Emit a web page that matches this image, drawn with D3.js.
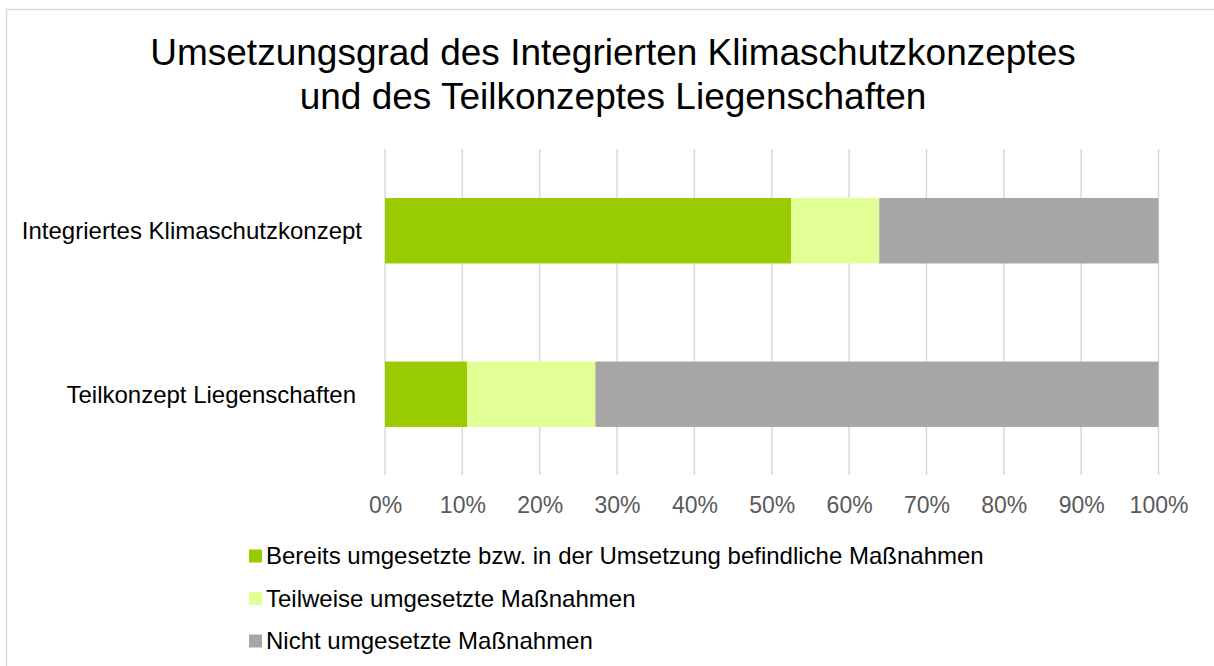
<!doctype html>
<html lang="de">
<head>
  <meta charset="utf-8">
  <title>Umsetzungsgrad</title>
  <script src="https://d3js.org/d3.v7.min.js"></script>
  <style>
    body { margin: 0; background: #fff; }
    text { font-family: "Liberation Sans", Arial, sans-serif; }
  </style>
</head>
<body>
<svg id="chart" width="1214" height="666"></svg>
<script>
// data (percent of measures)
var categories = ["Integriertes Klimaschutzkonzept", "Teilkonzept Liegenschaften"];
var seriesNames = [
  "Bereits umgesetzte bzw. in der Umsetzung befindliche Maßnahmen",
  "Teilweise umgesetzte Maßnahmen",
  "Nicht umgesetzte Maßnahmen"
];
var umgesetzt = [52.5, 10.6];
var teilweise = [11.4, 16.6];
var nicht = [36.1, 72.8];
var tickValues = [0, 10, 20, 30, 40, 50, 60, 70, 80, 90, 100];
var titleLines = ["Umsetzungsgrad des Integrierten Klimaschutzkonzeptes", "und des Teilkonzeptes Liegenschaften"];

var colors = ["#99cc00", "#e1ff94", "#a6a6a6"];

var svg = d3.select("#chart");

// outer frame (runs off the right and bottom edge)
svg.append("rect")
  .attr("x", 6.5).attr("y", 9.5)
  .attr("width", 1220).attr("height", 670)
  .attr("fill", "none").attr("stroke", "#d9d9d9").attr("stroke-width", 1.5);

// title
svg.append("g").selectAll("text")
  .data(titleLines)
  .enter().append("text")
  .attr("x", 613)
  .attr("y", function(d, i) { return 65 + i * 44; })
  .attr("text-anchor", "middle")
  .attr("font-size", 37)
  .attr("fill", "#000")
  .text(function(d) { return d; });

var x = d3.scaleLinear().domain([0, 100]).range([385, 1158.5]);
var y = d3.scaleBand().domain(categories).range([149, 476]).paddingInner(0.6).paddingOuter(0.3);

// gridlines
svg.append("g").selectAll("line")
  .data(tickValues)
  .enter().append("line")
  .attr("x1", function(d) { return x(d); })
  .attr("x2", function(d) { return x(d); })
  .attr("y1", 149).attr("y2", 475)
  .attr("stroke", "#d9d9d9").attr("stroke-width", 1.5);

// stacked data
var rows = categories.map(function(c, i) {
  return { cat: c, s0: umgesetzt[i], s1: teilweise[i], s2: nicht[i] };
});
var stack = d3.stack().keys(["s0", "s1", "s2"])(rows);

svg.append("g").selectAll("g")
  .data(stack)
  .enter().append("g")
  .attr("fill", function(d, i) { return colors[i]; })
  .selectAll("rect")
  .data(function(d) { return d; })
  .enter().append("rect")
  .attr("x", function(d) { return x(d[0]); })
  .attr("width", function(d) { return x(d[1]) - x(d[0]); })
  .attr("y", function(d) { return y(d.data.cat); })
  .attr("height", y.bandwidth());

// x axis labels
var xAxis = svg.append("g")
  .attr("transform", "translate(0,475)")
  .call(d3.axisBottom(x).tickValues(tickValues).tickSize(0).tickPadding(22)
    .tickFormat(function(d) { return d + "%"; }));
xAxis.select(".domain").remove();
xAxis.selectAll("text")
  .attr("font-family", "Liberation Sans, Arial, sans-serif")
  .attr("font-size", 23)
  .attr("fill", "#595959");

// category labels
var labelEnd = [362, 356];
svg.append("g").selectAll("text")
  .data(categories)
  .enter().append("text")
  .attr("x", function(d, i) { return labelEnd[i]; })
  .attr("y", function(d) { return y(d) + y.bandwidth() / 2; })
  .attr("dy", "0.35em")
  .attr("text-anchor", "end")
  .attr("font-size", 24)
  .attr("fill", "#000")
  .text(function(d) { return d; });

// legend
var legend = svg.append("g").selectAll("g")
  .data(seriesNames)
  .enter().append("g")
  .attr("transform", function(d, i) { return "translate(249," + (556 + i * 42.5) + ")"; });
legend.append("rect")
  .attr("x", 0).attr("y", -6.5)
  .attr("width", 13).attr("height", 13)
  .attr("fill", function(d, i) { return colors[i]; });
legend.append("text")
  .attr("x", 17)
  .attr("dy", "0.35em")
  .attr("font-size", 24)
  .attr("fill", "#000")
  .text(function(d) { return d; });
</script>
</body>
</html>
